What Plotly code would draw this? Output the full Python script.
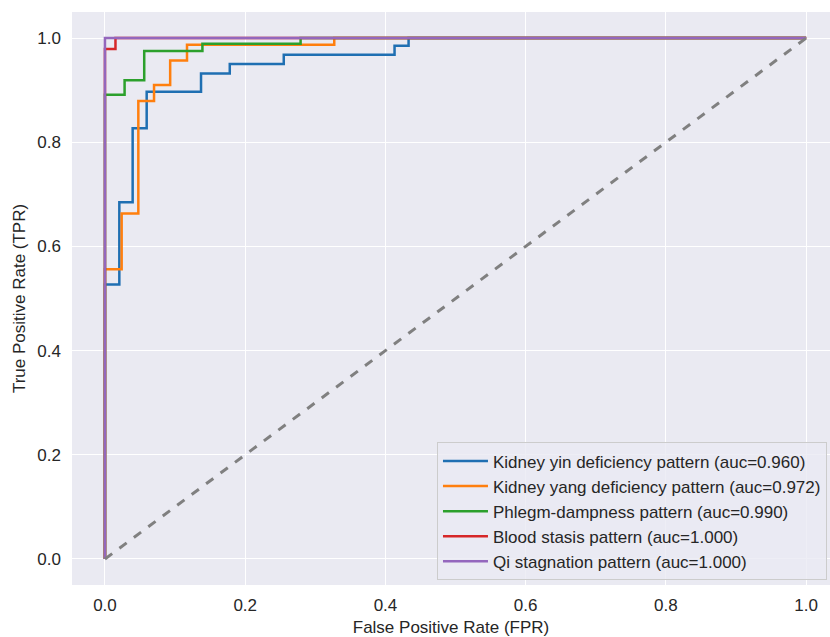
import plotly.graph_objects as go

# ROC curve data
names = [
    "Kidney yin deficiency pattern (auc=0.960)",
    "Kidney yang deficiency pattern (auc=0.972)",
    "Phlegm-dampness pattern (auc=0.990)",
    "Blood stasis pattern (auc=1.000)",
    "Qi stagnation pattern (auc=1.000)",
]
colors = ["#1f6fb2", "#ff7f0e", "#2ca02c", "#d62728", "#9467bd"]

fpr_yin = [0, 0, 0.0205, 0.0395, 0.0595, 0.137, 0.178, 0.255, 0.413, 0.433, 1.0]
tpr_yin = [0, 0.527, 0.685, 0.827, 0.897, 0.932, 0.950, 0.968, 0.985, 1.0, 1.0]

fpr_yang = [0, 0, 0.0238, 0.0476, 0.070, 0.093, 0.117, 0.327, 1.0]
tpr_yang = [0, 0.556, 0.663, 0.879, 0.910, 0.957, 0.987, 1.0, 1.0]

fpr_phlegm = [0, 0, 0.028, 0.056, 0.139, 0.279, 1.0]
tpr_phlegm = [0, 0.891, 0.919, 0.975, 0.989, 1.0, 1.0]

fpr_blood = [0, 0, 0.015, 1.0]
tpr_blood = [0, 0.979, 1.0, 1.0]

fpr_qi = [0, 0, 1.0]
tpr_qi = [0, 1.0, 1.0]

diag_x = [0, 1]
diag_y = [0, 1]

xticks = [0.0, 0.2, 0.4, 0.6, 0.8, 1.0]
yticks = [0.0, 0.2, 0.4, 0.6, 0.8, 1.0]

series = [
    (fpr_yin, tpr_yin),
    (fpr_yang, tpr_yang),
    (fpr_phlegm, tpr_phlegm),
    (fpr_blood, tpr_blood),
    (fpr_qi, tpr_qi),
]

FONT = "Liberation Sans, Arial, sans-serif"
TXT = "#262626"

fig = go.Figure()
for (fx, ty), nm, c in zip(series, names, colors):
    fig.add_trace(go.Scatter(
        x=fx, y=ty, mode="lines", name=nm,
        line=dict(color=c, width=2.5, shape="hv"),
    ))

fig.add_trace(go.Scatter(
    x=diag_x, y=diag_y, mode="lines", showlegend=False,
    line=dict(color="#808080", width=3, dash="dash"),
))

fig.update_layout(
    width=830, height=637,
    margin=dict(l=72, r=0, t=12, b=52),
    paper_bgcolor="white",
    plot_bgcolor="#EAEAF2",
    font=dict(family=FONT, size=17, color=TXT),
    legend=dict(
        x=0.4815, y=0.008, xanchor="left", yanchor="bottom",
        bgcolor="rgba(234,234,242,0.8)",
        bordercolor="#CCCCCC", borderwidth=1,
        font=dict(family=FONT, size=17, color=TXT),
        itemwidth=45,
        tracegroupgap=0,
    ),
    xaxis=dict(
        range=[-0.047, 1.034], tickvals=xticks, ticktext=[f"{v:.1f}" for v in xticks],
        showgrid=True, gridcolor="white", gridwidth=1.3, zeroline=False,
        showline=False, ticks="", ticklabelstandoff=8,
        title=dict(text="False Positive Rate (FPR)", font=dict(size=17), standoff=9),
    ),
    yaxis=dict(
        range=[-0.05, 1.05], tickvals=yticks, ticktext=[f"{v:.1f}" for v in yticks],
        showgrid=True, gridcolor="white", gridwidth=1.3, zeroline=False,
        showline=False, ticks="", ticklabelstandoff=10,
        title=dict(text="True Positive Rate (TPR)", font=dict(size=17), standoff=7),
    ),
)

fig.write_html("out.html")
